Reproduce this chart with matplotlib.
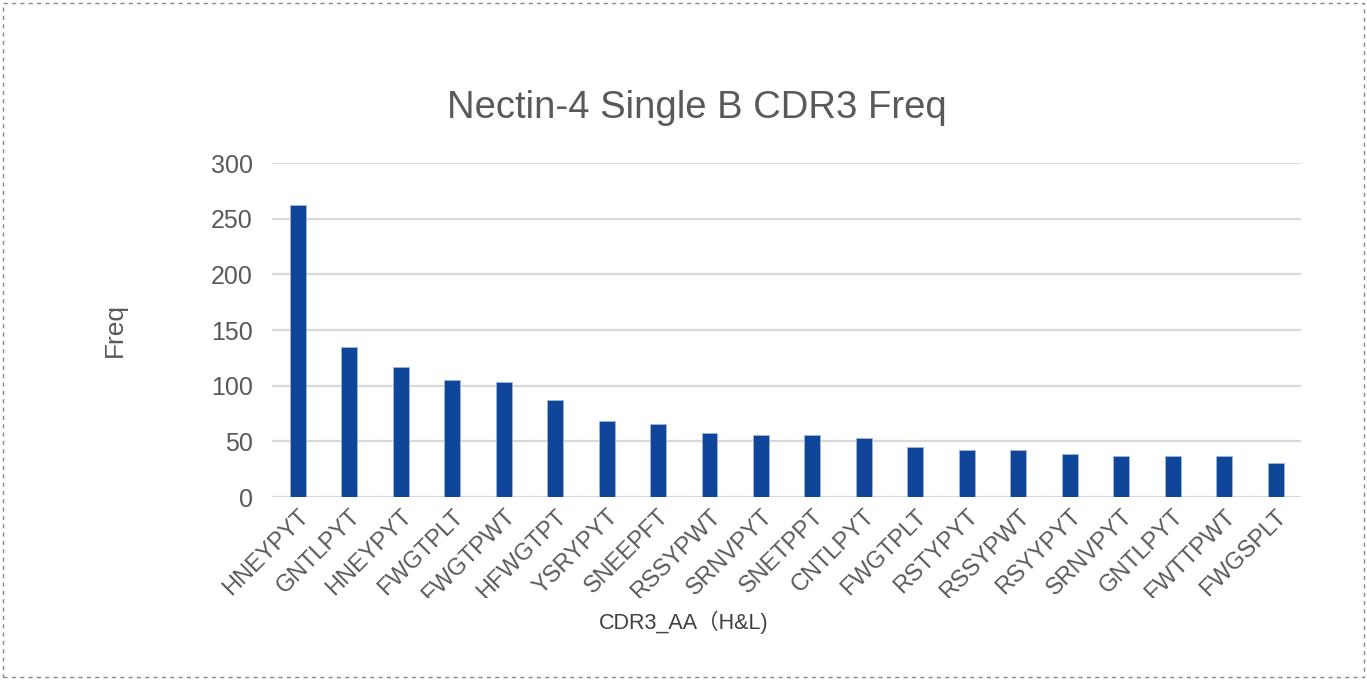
import matplotlib.pyplot as plt
from matplotlib.transforms import Bbox, TransformedBbox
from matplotlib.patches import Rectangle

plt.rcParams['font.family'] = ['Liberation Sans', 'Noto Sans CJK SC', 'DejaVu Sans']

# CDR3 sequences (only the visible tail of each label)
seqs = ['HNEYPYT', 'GNTLPYT', 'HNEYPYT', 'FWGTPLT', 'FWGTPWT', 'HFWGTPT',
        'YSRYPYT', 'SNEEPFT', 'RSSYPWT', 'SRNVPYT', 'SNETPPT', 'CNTLPYT',
        'FWGTPLT', 'RSTYPYT', 'RSSYPWT', 'RSYYPYT', 'SRNVPYT', 'GNTLPYT',
        'FWTTPWT', 'FWGSPLT']
freq = [262, 135, 117, 105, 103, 87, 68, 66, 58, 56, 56, 53,
        45, 42, 42, 39, 37, 37, 37, 31]
yticks = [0, 50, 100, 150, 200, 250, 300]

txt = '#595959'

fig = plt.figure(figsize=(13.67, 6.8), dpi=100)
ax = fig.add_axes([0.199, 0.269, 0.753, 0.491])

x = list(range(len(freq)))
ax.bar(x, freq, width=0.31, color='#0f4699', edgecolor='#9fb6dc', linewidth=0.6, zorder=3)

ax.set_xlim(-0.5, len(freq) - 0.5)
ax.set_ylim(0, 300)
ax.set_yticks(yticks)
ax.set_yticklabels([str(v) for v in yticks])
ax.yaxis.grid(True, color='#d9d9d9', linewidth=1.6, zorder=0)
for s in ax.spines.values():
    s.set_visible(False)
ax.tick_params(axis='both', length=0, colors=txt, labelsize=17)
ax.tick_params(axis='y', pad=14, labelsize=18)
ax.tick_params(axis='x', pad=6)

ax.set_xticks(x)
ax.set_xticklabels(seqs, rotation=45, ha='right', va='top', rotation_mode='anchor')
clip = TransformedBbox(Bbox([[0, 1 - 598 / 680], [1, 1]]), fig.transFigure)
for lbl in ax.get_xticklabels():
    lbl.set_clip_box(clip)
    lbl.set_clip_on(True)

fig.text(697 / 1367, 1 - 108 / 680, 'Nectin-4 Single B CDR3 Freq', ha='center', va='center',
         fontsize=27.5, color=txt)
fig.text(115 / 1367, 1 - 330 / 680, 'Freq', ha='center', va='center', rotation=90,
         fontsize=19, color=txt)
fig.text(684 / 1367, 1 - 622 / 680, 'CDR3_AA（H&L)', ha='center', va='center',
         fontsize=15.5, color='#404040')

# dashed border around the whole chart
fig.patches.append(Rectangle((0.002, 0.004), 0.996, 0.992, transform=fig.transFigure,
                             fill=False, edgecolor='#888888', linestyle=(0, (3, 3)), linewidth=1))

fig.savefig('out.png', dpi=100)
